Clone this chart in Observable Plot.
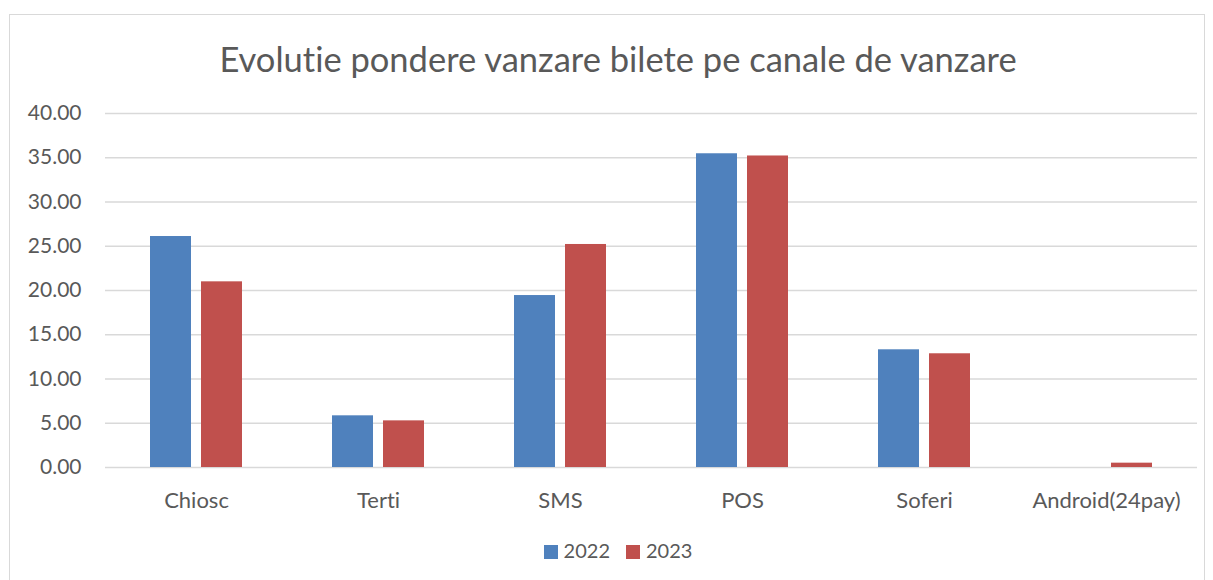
<!DOCTYPE html>
<html>
<head>
<meta charset="utf-8">
<script src="https://cdn.jsdelivr.net/npm/d3@7"></script>
<script src="https://cdn.jsdelivr.net/npm/@observablehq/plot@0.6"></script>
<style>
  body { margin: 0; background: #fff; font-family: Lato, "Open Sans", sans-serif; color: #595959; font-variant-ligatures: none; }
  svg text { font-variant-ligatures: none; }
  #page { position: relative; width: 1213px; height: 580px; overflow: hidden; }
  #frame { position: absolute; left: 9px; top: 14px; width: 1196px; height: 570px; border: 1px solid #d9d9d9; box-sizing: border-box; }
  #title { position: absolute; left: 0; width: 1236px; top: 38px; text-align: center; font-size: 34.5px; color: #595959; }
  #chart { position: absolute; left: 0; top: 90px; }
  #legend { position: absolute; left: 0; width: 1236px; top: 538px; text-align: center; font-size: 20px; color: #595959; }
  .sw { display: inline-block; width: 14px; height: 14px; margin-right: 6px; vertical-align: -1px; }
  .item { display: inline-block; margin: 0 8px; }
</style>
</head>
<body>
<div id="page">
  <div id="frame"></div>
  <div id="title">Evolutie pondere vanzare bilete pe canale de vanzare</div>
  <div id="chart"></div>
  <div id="legend"></div>
</div>
<script>
const categories = ["Chiosc", "Terti", "SMS", "POS", "Soferi", "Android(24pay)"];
const years = ["2022", "2023"];
const values2022 = [26.1, 5.84, 19.43, 35.45, 13.3, 0];
const values2023 = [20.98, 5.27, 25.2, 35.2, 12.85, 0.49];
const yTicks = [0, 5, 10, 15, 20, 25, 30, 35, 40];
const colors = ["#4F81BD", "#C0504D"];

const data = [];
categories.forEach((c, i) => {
  data.push({category: c, year: "2022", value: values2022[i]});
  data.push({category: c, year: "2023", value: values2023[i]});
});

const chart = Plot.plot({
  width: 1213,
  height: 440,
  marginTop: 23,
  marginBottom: 63,
  marginLeft: 104,
  marginRight: 16,
  style: {fontFamily: "Lato, 'Open Sans', sans-serif", fontSize: "21px", color: "#595959", background: "transparent"},
  fx: {domain: categories, padding: 0, label: null},
  x: {domain: years, axis: null, paddingInner: 0.2, paddingOuter: 0.88},
  y: {domain: [0, 40], label: null},
  color: {domain: years, range: colors},
  marks: [
    Plot.ruleY(yTicks, {stroke: "#d9d9d9", strokeWidth: 1.5}),
    Plot.barY(data, {fx: "category", x: "year", y: "value", fill: "year"}),
    Plot.axisY({ticks: yTicks, tickFormat: d => d.toFixed(2), tickSize: 0, tickPadding: 24, fontSize: 21, label: null}),
    Plot.axisFx({anchor: "bottom", tickSize: 0, tickPadding: 25, fontSize: 22, label: null})
  ]
});
document.getElementById("chart").appendChild(chart);

const legend = document.getElementById("legend");
years.forEach((y, i) => {
  const item = document.createElement("span");
  item.className = "item";
  item.innerHTML = `<span class="sw" style="background:${colors[i]}"></span>${y}`;
  legend.appendChild(item);
});
</script>
</body>
</html>
